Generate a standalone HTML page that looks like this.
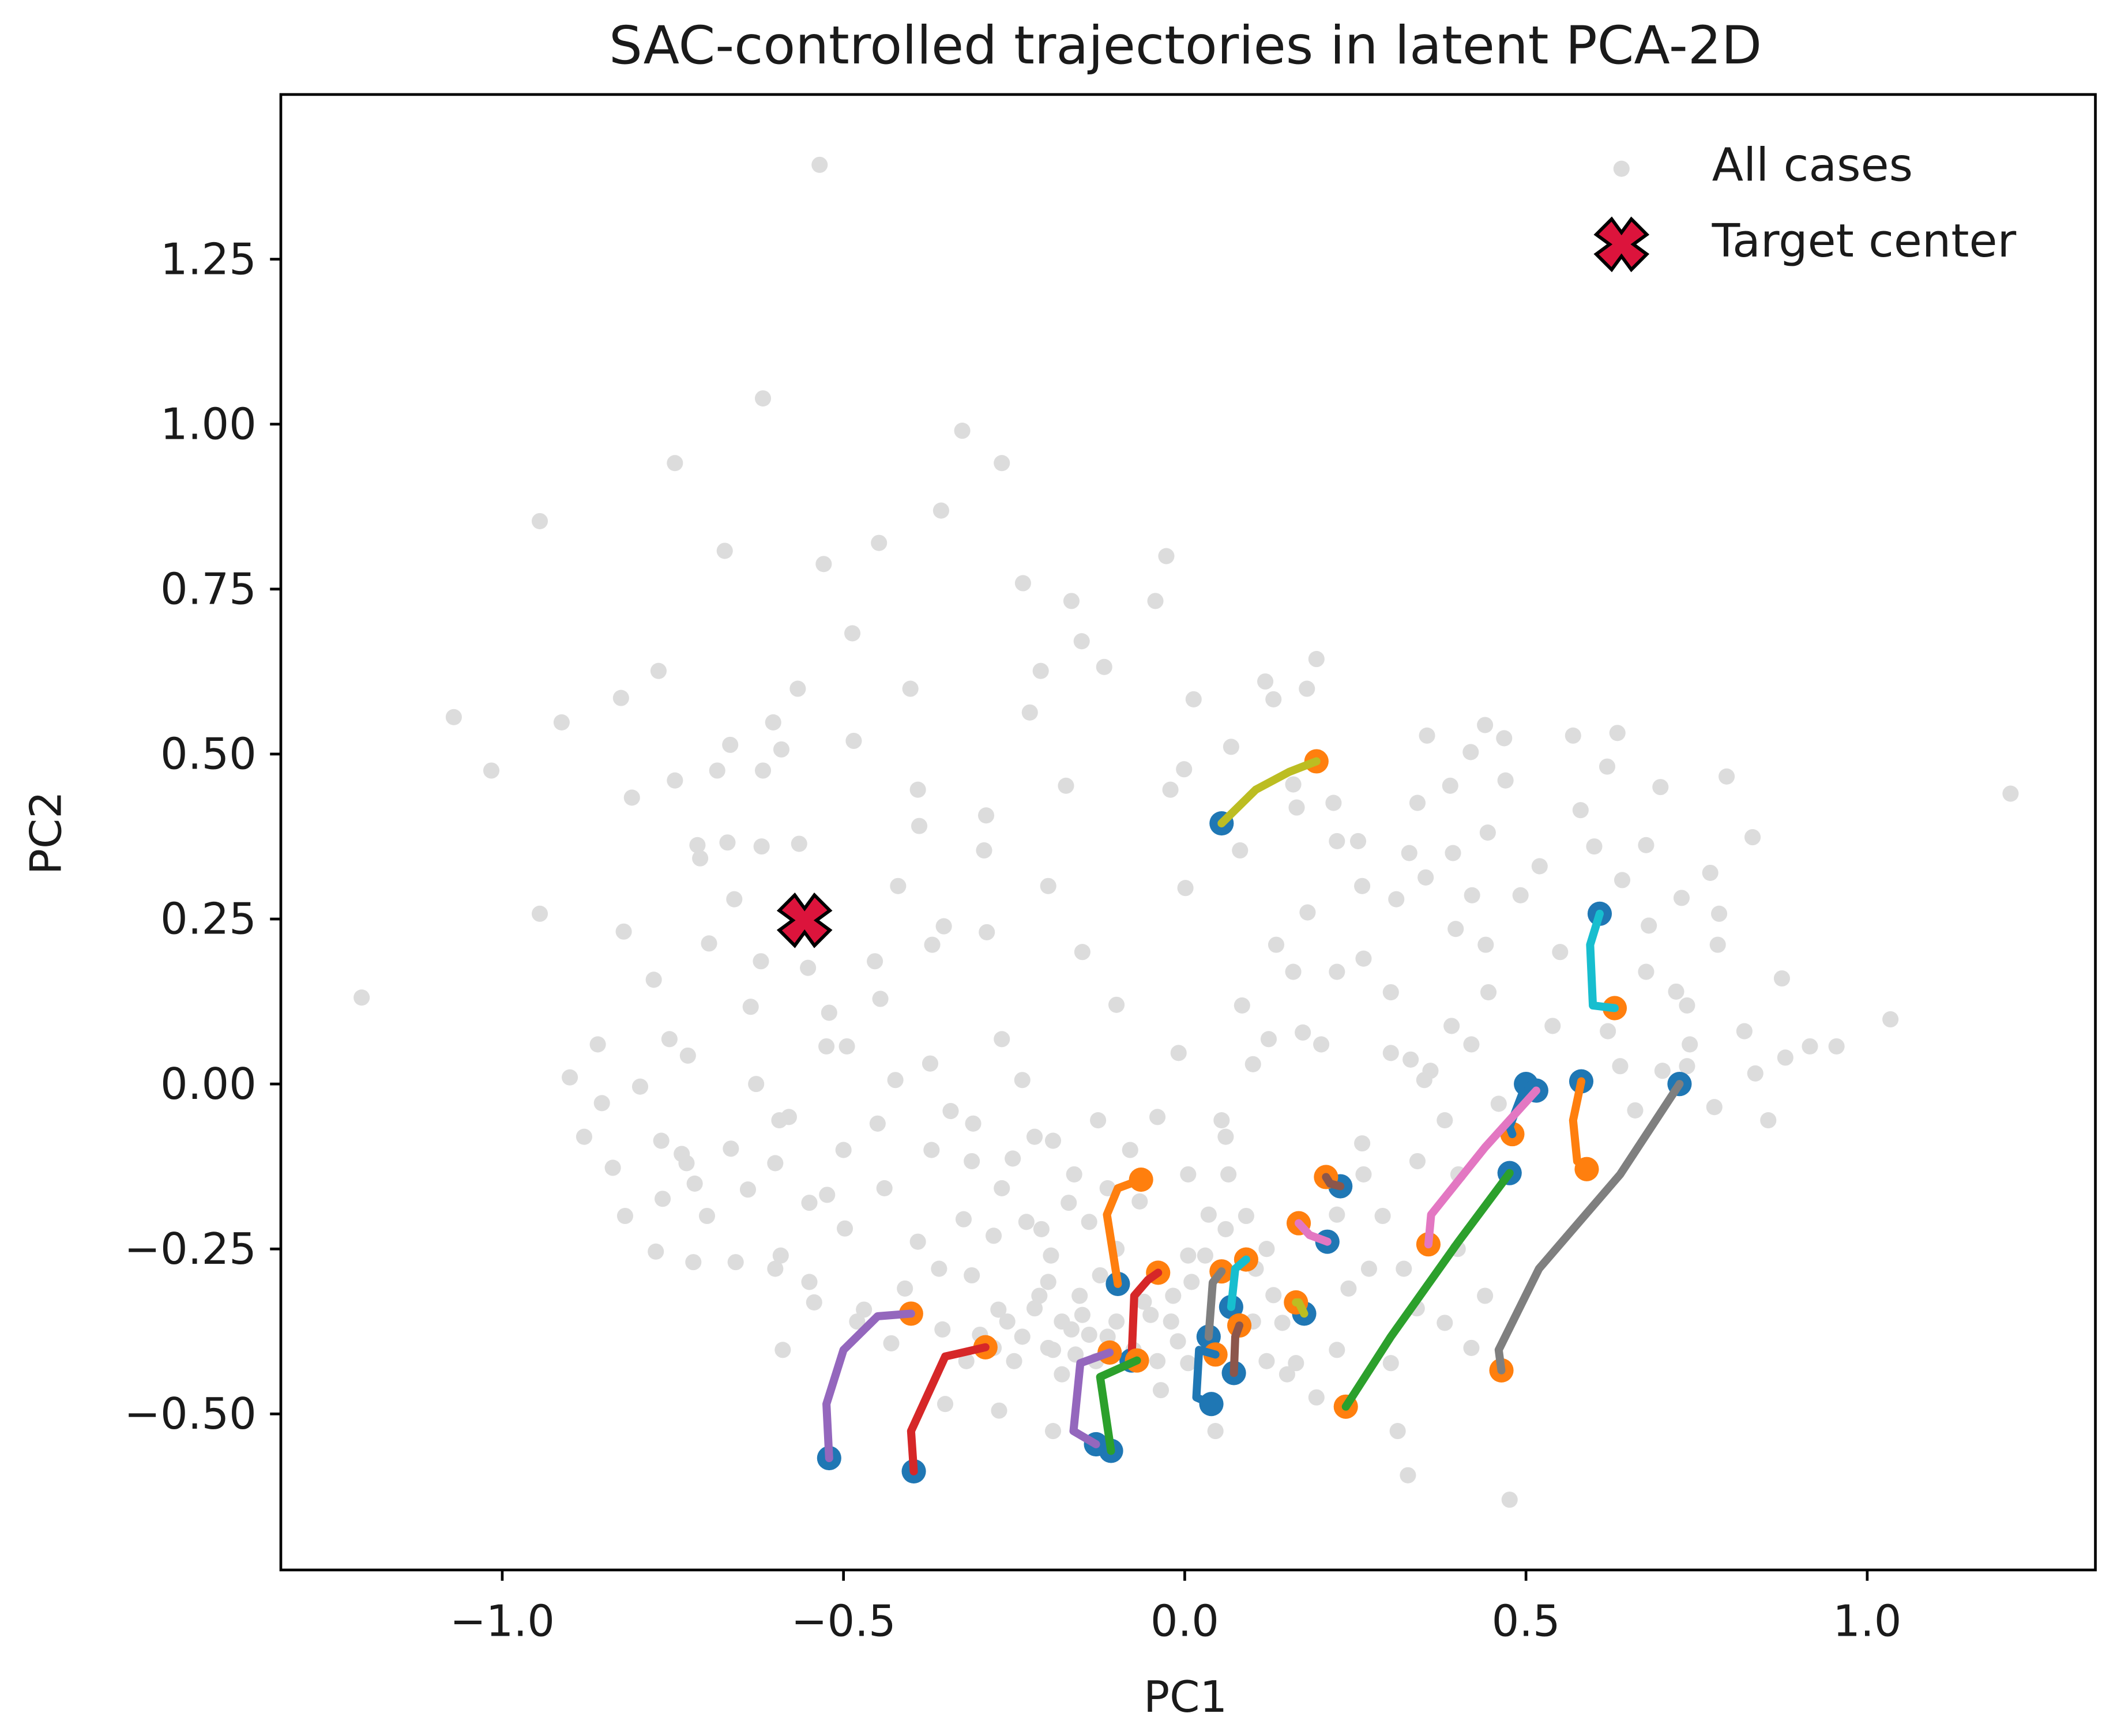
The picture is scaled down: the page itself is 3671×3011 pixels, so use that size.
<!DOCTYPE html>
<html><head><meta charset="utf-8"><style>
html,body{margin:0;padding:0;background:#fff}
svg{display:block}
text{font-family:"DejaVu Sans","Liberation Sans",sans-serif;fill:#1a1a1a}
</style></head><body>
<svg id="chart" width="3671" height="3011" viewBox="0 0 1568 1286" preserveAspectRatio="none" xmlns="http://www.w3.org/2000/svg">
<rect x="0" y="0" width="1568" height="1286" fill="#fff"/>
<text x="878" y="47" text-anchor="middle" font-size="39">SAC-controlled trajectories in latent PCA-2D</text>
<g id="plot"></g>
<rect x="208" y="70" width="1344" height="1093" fill="none" stroke="#000" stroke-width="2"/>
<text x="878" y="1268" text-anchor="middle" font-size="32">PC1</text>
<text transform="translate(45,617) rotate(-90)" text-anchor="middle" font-size="32">PC2</text>
<g>
<circle cx="1201" cy="125" r="6" fill="#dcdcdc"/>
<text x="1268" y="134" font-size="34">All cases</text>
<g id="legX"></g>
<text x="1268" y="190" font-size="34">Target center</text>
</g>
</svg>
<script>
const xTicks=[-1.0,-0.5,0.0,0.5,1.0];
const xTickLabels=["\u22121.0","\u22120.5","0.0","0.5","1.0"];
const yTicks=[-0.5,-0.25,0,0.25,0.5,0.75,1.0,1.25];
const yTickLabels=["\u22120.50","\u22120.25","0.00","0.25","0.50","0.75","1.00","1.25"];
const allCases=[[-0.535,1.393],[-0.618,1.039],[-0.326,0.99],[-0.747,0.941],[-0.268,0.941],[-0.945,0.853],[-0.357,0.869],[-0.674,0.808],[-0.448,0.82],[-0.529,0.788],[-0.027,0.8],[-0.237,0.759],[-0.166,0.732],[-0.043,0.732],[-0.487,0.683],[-0.151,0.671],[-0.771,0.626],[-0.826,0.585],[-1.071,0.556],[-0.211,0.626],[-0.118,0.632],[-0.402,0.599],[-0.567,0.599],[-0.227,0.563],[0.013,0.583],[0.118,0.61],[0.193,0.644],[0.179,0.599],[0.13,0.583],[-0.913,0.548],[-0.603,0.548],[-1.016,0.475],[-0.81,0.434],[-0.747,0.46],[-0.666,0.514],[-0.591,0.507],[-0.485,0.52],[-0.618,0.475],[-0.685,0.475],[-0.391,0.446],[-0.389,0.391],[-0.174,0.452],[-0.291,0.407],[-0.714,0.362],[-0.67,0.366],[-0.71,0.342],[-0.294,0.354],[-0.565,0.364],[-0.001,0.477],[-0.021,0.446],[0.068,0.511],[0.159,0.454],[0.218,0.426],[0.164,0.419],[0.254,0.368],[0.223,0.368],[0.081,0.354],[0.001,0.297],[0.355,0.528],[0.419,0.503],[0.468,0.524],[0.44,0.544],[0.389,0.452],[0.341,0.426],[0.444,0.381],[0.569,0.528],[0.634,0.532],[0.619,0.481],[0.697,0.45],[0.794,0.466],[0.58,0.415],[0.832,0.374],[1.21,0.44],[0.676,0.362],[0.641,0.309],[0.728,0.282],[0.783,0.258],[0.329,0.35],[0.393,0.35],[0.353,0.313],[0.421,0.286],[0.492,0.286],[0.397,0.235],[0.441,0.211],[-0.945,0.258],[-0.822,0.231],[-0.697,0.213],[-0.621,0.186],[-0.552,0.176],[-0.454,0.186],[-0.353,0.239],[-0.37,0.211],[-0.446,0.129],[-0.521,0.108],[-0.636,0.117],[-0.778,0.158],[-0.755,0.068],[-0.728,0.043],[-0.798,-0.004],[-0.901,0.01],[-1.206,0.131],[-0.854,-0.029],[-0.767,-0.086],[-0.838,-0.127],[-0.737,-0.106],[-0.718,-0.151],[-0.665,-0.098],[-0.765,-0.174],[-0.775,-0.254],[-0.594,-0.055],[-0.628,0.0],[-0.525,0.057],[-0.495,0.057],[-0.424,0.006],[-0.373,0.031],[-0.268,0.068],[-0.343,-0.041],[-0.238,0.006],[-0.127,-0.055],[-0.193,-0.086],[-0.252,-0.113],[-0.312,-0.117],[-0.371,-0.1],[-0.44,-0.158],[-0.524,-0.168],[-0.498,-0.219],[-0.592,-0.26],[-0.658,-0.27],[-0.543,-0.331],[-0.47,-0.342],[-0.391,-0.239],[-0.324,-0.205],[-0.268,-0.158],[-0.232,-0.209],[-0.196,-0.26],[-0.14,-0.209],[-0.162,-0.137],[-0.113,-0.158],[-0.066,-0.178],[-0.312,-0.29],[-0.273,-0.342],[-0.213,-0.321],[-0.154,-0.321],[-0.124,-0.29],[-0.238,-0.383],[-0.193,-0.403],[-0.355,-0.372],[-0.43,-0.393],[-0.166,-0.372],[-0.113,-0.383],[-0.075,-0.403],[-0.017,-0.321],[0.005,-0.26],[0.035,-0.198],[0.005,-0.137],[0.064,-0.137],[0.054,-0.055],[-0.009,0.047],[0.084,0.119],[0.123,0.068],[0.173,0.078],[0.159,0.17],[0.223,0.17],[0.134,0.211],[0.262,0.19],[0.302,0.139],[0.302,0.047],[0.331,0.037],[0.351,0.006],[0.391,0.088],[0.445,0.139],[0.539,0.088],[0.676,0.17],[0.736,0.119],[0.781,0.211],[0.875,0.16],[0.916,0.057],[0.955,0.057],[1.034,0.098],[0.855,-0.055],[0.776,-0.035],[0.736,0.027],[0.836,0.016],[0.638,0.027],[0.381,-0.055],[0.401,-0.137],[0.341,-0.117],[0.262,-0.137],[0.223,-0.198],[0.321,-0.28],[0.381,-0.362],[0.44,-0.321],[0.302,-0.423],[0.223,-0.403],[0.163,-0.423],[0.143,-0.362],[0.312,-0.526],[0.327,-0.593],[0.476,-0.63],[0.005,-0.423],[-0.035,-0.464],[0.045,-0.526],[0.104,-0.28],[0.193,-0.475],[-0.351,-0.485],[-0.193,-0.526],[-0.272,-0.495],[-0.589,-0.403],[-0.15,-0.35],[-0.2,-0.3],[-0.1,-0.25],[-0.05,-0.35],[-0.25,-0.42],[-0.18,-0.44],[-0.22,-0.34],[-0.18,-0.36],[-0.14,-0.38],[-0.1,-0.36],[-0.06,-0.33],[-0.02,-0.36],[-0.26,-0.36],[-0.3,-0.38],[-0.32,-0.42],[-0.28,-0.4],[-0.2,-0.4],[-0.16,-0.41],[-0.13,-0.42],[-0.04,-0.42],[-0.01,-0.39],[0.01,-0.3],[0.03,-0.26],[0.06,-0.22],[0.09,-0.2],[0.12,-0.25],[0.13,-0.32],[0.1,-0.36],[0.12,-0.42],[0.15,-0.44],[-0.17,-0.18],[-0.21,-0.22],[-0.28,-0.23],[-0.36,-0.28],[-0.41,-0.31],[-0.48,-0.36],[-0.55,-0.18],[-0.6,-0.12],[-0.64,-0.16],[-0.7,-0.2],[-0.73,-0.12],[-0.58,-0.05],[-0.5,-0.1],[-0.45,-0.06],[-0.31,-0.06],[-0.22,-0.08],[-0.08,-0.1],[-0.04,-0.05],[0.06,-0.08],[0.26,-0.09],[0.29,-0.2],[0.27,-0.28],[0.24,-0.31],[0.34,-0.34],[0.42,-0.4],[0.4,-0.25],[0.36,0.02],[0.46,-0.03],[0.42,0.06],[0.62,0.08],[0.7,0.02],[0.74,0.06],[0.66,-0.04],[0.82,0.08],[0.88,0.04],[0.68,0.24],[0.72,0.14],[0.55,0.2],[0.52,0.33],[0.6,0.36],[0.77,0.32],[0.47,0.46],[0.31,0.28],[0.26,0.3],[0.18,0.26],[0.2,0.06],[0.1,0.03],[-0.1,0.12],[-0.15,0.2],[-0.2,0.3],[-0.29,0.23],[-0.42,0.3],[-0.62,0.36],[-0.66,0.28],[-0.86,0.06],[-0.88,-0.08],[-0.82,-0.2],[-0.72,-0.27],[-0.6,-0.28],[-0.55,-0.3]];
const trajColors=["#bcbd22","#17becf","#1f77b4","#e377c2","#ff7f0e","#7f7f7f","#2ca02c","#8c564b","#e377c2","#bcbd22","#ff7f0e","#d62728","#7f7f7f","#17becf","#8c564b","#1f77b4","#9467bd","#d62728","#9467bd","#2ca02c"];
const traj01=[[0.054,0.395],[0.104,0.446],[0.153,0.473],[0.193,0.489]];
const traj02=[[0.608,0.258],[0.594,0.211],[0.598,0.119],[0.63,0.115]];
const traj03=[[0.5,0.0],[0.476,-0.065],[0.48,-0.076]];
const traj04=[[0.515,-0.01],[0.44,-0.096],[0.361,-0.198],[0.357,-0.243]];
const traj05=[[0.581,0.004],[0.569,-0.055],[0.575,-0.117],[0.589,-0.129]];
const traj06=[[0.725,0],[0.638,-0.137],[0.519,-0.28],[0.46,-0.403],[0.464,-0.434]];
const traj07=[[0.476,-0.135],[0.401,-0.239],[0.302,-0.383],[0.236,-0.489]];
const traj08=[[0.228,-0.155],[0.213,-0.151],[0.207,-0.141]];
const traj09=[[0.209,-0.239],[0.183,-0.229],[0.167,-0.211]];
const traj10=[[0.175,-0.348],[0.167,-0.331],[0.163,-0.331]];
const traj11=[[-0.098,-0.303],[-0.114,-0.198],[-0.098,-0.158],[-0.064,-0.145]];
const traj12=[[-0.078,-0.419],[-0.074,-0.321],[-0.054,-0.297],[-0.039,-0.286]];
const traj13=[[0.035,-0.383],[0.041,-0.301],[0.054,-0.284]];
const traj14=[[0.068,-0.338],[0.074,-0.28],[0.09,-0.266]];
const traj15=[[0.072,-0.438],[0.074,-0.383],[0.08,-0.366]];
const traj16=[[0.039,-0.485],[0.017,-0.475],[0.021,-0.403],[0.045,-0.41]];
const traj17=[[-0.521,-0.567],[-0.525,-0.485],[-0.5,-0.403],[-0.45,-0.352],[-0.401,-0.348]];
const traj18=[[-0.397,-0.587],[-0.401,-0.526],[-0.351,-0.413],[-0.292,-0.399]];
const traj19=[[-0.13,-0.546],[-0.163,-0.526],[-0.153,-0.423],[-0.11,-0.407]];
const traj20=[[-0.108,-0.556],[-0.124,-0.444],[-0.07,-0.419]];
const trajectories=[traj01,traj02,traj03,traj04,traj05,traj06,traj07,traj08,traj09,traj10,traj11,traj12,traj13,traj14,traj15,traj16,traj17,traj18,traj19,traj20];
const target=[-0.557,0.248];

const NS="http://www.w3.org/2000/svg";
function xs(v){return 877.5+v*505.5;}
function ys(v){return 803-v*488.8;}
const plot=document.getElementById('plot');
const svg=document.getElementById('chart');
function mk(tag,attrs,parent){const e=document.createElementNS(NS,tag);for(const k in attrs)e.setAttribute(k,attrs[k]);(parent||plot).appendChild(e);return e;}

xTicks.forEach((t,i)=>{
  const l=mk('line',{x1:xs(t),x2:xs(t),y1:1163,y2:1171,stroke:'#000','stroke-width':2},svg);
  
  
  const tx=mk('text',{x:xs(t),y:1212,'text-anchor':'middle','font-size':32},svg);
  
  
  tx.textContent=xTickLabels[i];
});
yTicks.forEach((t,i)=>{
  const l=mk('line',{x1:200,x2:208,y1:ys(t),y2:ys(t),stroke:'#000','stroke-width':2},svg);
  
  
  const tx=mk('text',{x:190,y:ys(t)+11,'text-anchor':'end','font-size':32},svg);
  
  
  tx.textContent=yTickLabels[i];
});
allCases.forEach(p=>{
  const c=mk('circle',{cx:xs(p[0]),cy:ys(p[1]),r:6,fill:'#dcdcdc'});
  
  
});
trajectories.forEach((tr,i)=>{
  const s=tr[0],e=tr[tr.length-1];
  const a=mk('circle',{cx:xs(s[0]),cy:ys(s[1]),r:9,fill:'#1f77b4'});
  
  
  const b=mk('circle',{cx:xs(e[0]),cy:ys(e[1]),r:9,fill:'#ff7f0e'});
  
  
  const pl=mk('polyline',{points:tr.map(p=>xs(p[0])+','+ys(p[1])).join(' '),fill:'none',stroke:trajColors[i],'stroke-width':6,'stroke-linejoin':'round','stroke-linecap':'round'});
  
  
});
function xMarker(cx,cy,parent,name){
  const s=13,w=8;
  const d=`M${cx-s-w/1.4} ${cy-s+w/1.4} L${cx-w*1.1} ${cy} L${cx-s-w/1.4} ${cy+s-w/1.4} L${cx-s+w/1.4} ${cy+s+w/1.4} L${cx} ${cy+w*1.1} L${cx+s-w/1.4} ${cy+s+w/1.4} L${cx+s+w/1.4} ${cy+s-w/1.4} L${cx+w*1.1} ${cy} L${cx+s+w/1.4} ${cy-s+w/1.4} L${cx+s-w/1.4} ${cy-s-w/1.4} L${cx} ${cy-w*1.1} L${cx-s+w/1.4} ${cy-s-w/1.4} Z`;
  const p=mk('path',{d:d,fill:'#dc143c',stroke:'#000','stroke-width':2.5,'stroke-linejoin':'miter'},parent);
  
  
}
xMarker(xs(target[0]),ys(target[1]),plot,'target-center-marker');
xMarker(1201,181,document.getElementById('legX'),'legend-target-x');
</script>
</body></html>
